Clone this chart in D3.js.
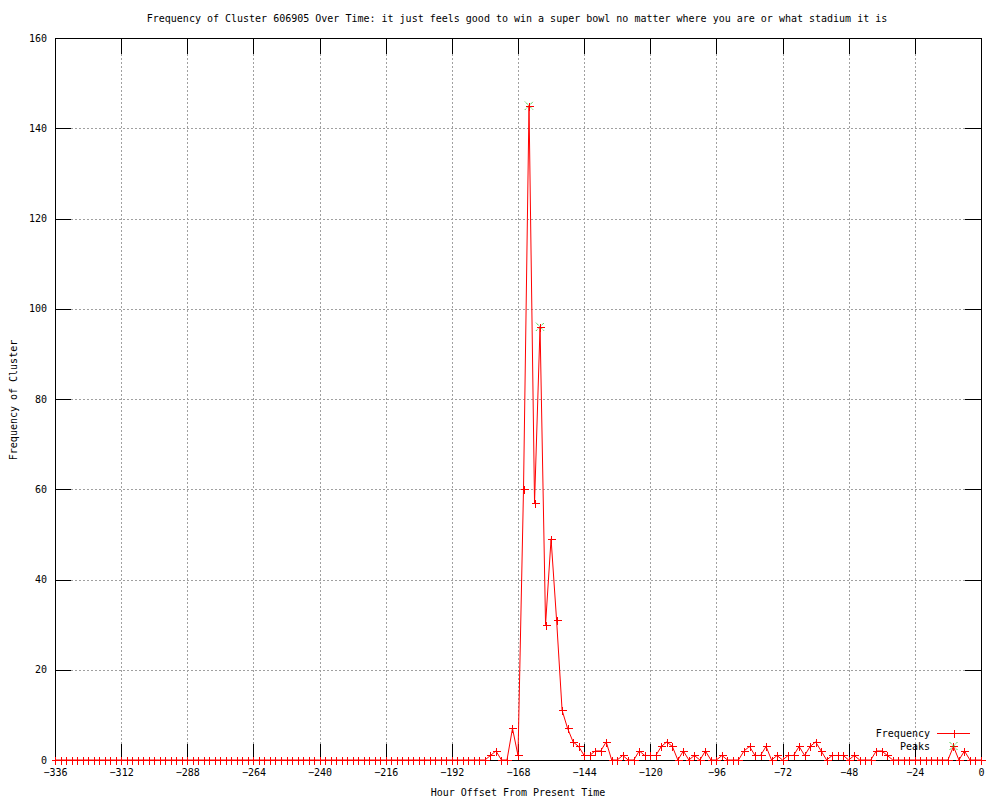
<!DOCTYPE html>
<html>
<head>
<meta charset="utf-8">
<script src="https://cdn.jsdelivr.net/npm/d3@7"></script>
<style>
  body { margin: 0; background: #fff; }
  text { font-family: "DejaVu Sans Mono", "Liberation Mono", monospace; font-size: 10px; fill: #000; }
</style>
</head>
<body>
<svg width="1000" height="800"></svg>
<script>
// frequency per 2-hour bin, hour offsets -336 .. 0
var hours = d3.range(-336, 1, 2);
var frequency = [
  0, 0, 0, 0, 0, 0, 0, 0, 0, 0, 0, 0, 0, 0, 0, 0, 0, 0, 0, 0,
  0, 0, 0, 0, 0, 0, 0, 0, 0, 0, 0, 0, 0, 0, 0, 0, 0, 0, 0, 0,
  0, 0, 0, 0, 0, 0, 0, 0, 0, 0, 0, 0, 0, 0, 0, 0, 0, 0, 0, 0,
  0, 0, 0, 0, 0, 0, 0, 0, 0, 0, 0, 0, 0, 0, 0, 0, 0, 0, 0,
  1, 2, 0, 0, 7, 1, 60, 145, 57, 96,
  30, 49, 31, 11, 7, 4, 3, 1, 1, 2,
  2, 4, 0, 0, 1, 0, 0, 2, 1, 1,
  1, 3, 4, 3, 0, 2, 0, 1, 0, 2,
  0, 0, 1, 0, 0, 0, 2, 3, 1, 1,
  3, 0, 1, 0, 1, 1, 3, 1, 3, 4,
  2, 0, 1, 1, 1, 0, 1, 0, 0, 0,
  2, 2, 1, 0, 0, 0, 0, 0, 0, 0,
  0, 0, 0, 0, 3, 0, 2, 0, 0, 0
];
var peakHours = [-164, -160];
var peakValues = [145, 96];

var xTicks = [-336, -312, -288, -264, -240, -216, -192, -168, -144, -120, -96, -72, -48, -24, 0];
var yTicks = [0, 20, 40, 60, 80, 100, 120, 140, 160];

var titleText = "Frequency of Cluster 606905 Over Time: it just feels good to win a super bowl no matter where you are or what stadium it is";

(function () {
var svg = d3.select("svg"),
    pL = 55, pR = 981, pT = 38, pB = 760,
    tic = 16;

var x = d3.scaleLinear().domain([-336, 0]).range([pL, pR]);
var y = d3.scaleLinear().domain([0, 160]).range([pB, pT]);

var data = hours.map(function (h, i) { return {h: h, v: frequency[i]}; });
var peaks = peakHours.map(function (h, i) { return {h: h, v: peakValues[i]}; });

// grid
var grid = svg.append("g").attr("shape-rendering", "crispEdges")
    .attr("stroke", "#a0a0a0").attr("stroke-dasharray", "2,2");
grid.selectAll(".gx").data(xTicks.slice(1, -1)).enter().append("line")
    .attr("x1", function (d) { return Math.round(x(d)) + 0.5; })
    .attr("x2", function (d) { return Math.round(x(d)) + 0.5; })
    .attr("y1", pT + tic).attr("y2", pB - tic);
grid.selectAll(".gy").data(yTicks.slice(1, -1)).enter().append("line")
    .attr("y1", function (d) { return Math.round(y(d)) + 0.5; })
    .attr("y2", function (d) { return Math.round(y(d)) + 0.5; })
    .attr("x1", pL + tic).attr("x2", pR - tic);

// axes with mirrored tics (gnuplot style)
var bottomAxis = d3.axisBottom(x).tickValues(xTicks).tickSizeInner(-tic).tickSizeOuter(0)
    .tickPadding(9).tickFormat(d3.format("d"));
var leftAxis = d3.axisLeft(y).tickValues(yTicks).tickSizeInner(-tic).tickSizeOuter(0)
    .tickPadding(8);

var gx = svg.append("g").attr("transform", "translate(0," + pB + ")").call(bottomAxis);
var gy = svg.append("g").attr("transform", "translate(" + pL + ",0)").call(leftAxis);
svg.append("g").attr("transform", "translate(0," + pT + ")")
    .call(d3.axisTop(x).tickValues(xTicks).tickSizeInner(-tic).tickSizeOuter(0).tickFormat(""));
svg.append("g").attr("transform", "translate(" + pR + ",0)")
    .call(d3.axisRight(y).tickValues(yTicks).tickSizeInner(-tic).tickSizeOuter(0).tickFormat(""));

svg.selectAll(".domain").remove();
svg.selectAll(".tick line").attr("stroke", "#000").attr("shape-rendering", "crispEdges");
svg.selectAll(".tick text").style("font-family", "'DejaVu Sans Mono', monospace").style("font-size", "10px");
gx.selectAll(".tick text").text(function (d) { return d < 0 ? "\u2212" + (-d) : d; });

// border
svg.append("rect")
    .attr("x", pL + 0.5).attr("y", pT + 0.5)
    .attr("width", pR - pL).attr("height", pB - pT)
    .attr("fill", "none").attr("stroke", "#000").attr("shape-rendering", "crispEdges");

// peaks (green *)
var star = 4;
var pk = svg.append("g").attr("stroke", "#00c000").attr("stroke-width", 1).attr("stroke-dasharray", "1,1");
peaks.forEach(function (d) {
  var cx = x(d.h), cy = y(d.v);
  pk.append("path").attr("d",
    "M" + (cx - star) + "," + (cy - star) + "L" + (cx + star) + "," + (cy + star) +
    "M" + (cx - star) + "," + (cy + star) + "L" + (cx + star) + "," + (cy - star));
});

// frequency line
var line = d3.line().x(function (d) { return x(d.h); }).y(function (d) { return y(d.v); });
svg.append("path").datum(data)
    .attr("d", line).attr("fill", "none").attr("stroke", "#ff0000").attr("stroke-width", 1);

var plus = 4;
svg.append("g").selectAll("path").data(data).enter().append("path")
    .attr("d", function (d) {
      var cx = Math.round(x(d.h)) + 0.5, cy = Math.round(y(d.v)) + 0.5;
      return "M" + (cx - plus) + "," + cy + "H" + (cx + plus) + "M" + cx + "," + (cy - plus) + "V" + (cy + plus);
    })
    .attr("stroke", "#ff0000").attr("shape-rendering", "crispEdges");

// key
var keyX = 930, sx1 = 937, sx2 = 970, sxm = (sx1 + sx2) / 2;
svg.append("text").attr("x", keyX).attr("y", 733).attr("dy", "0.35em").attr("text-anchor", "end").text("Frequency");
svg.append("line").attr("x1", sx1).attr("x2", sx2).attr("y1", 733.5).attr("y2", 733.5)
    .attr("stroke", "#ff0000").attr("shape-rendering", "crispEdges");
svg.append("path").attr("d", "M" + (Math.round(sxm) + 0.5) + "," + (733.5 - plus) + "V" + (733.5 + plus))
    .attr("stroke", "#ff0000").attr("shape-rendering", "crispEdges");
svg.append("text").attr("x", keyX).attr("y", 746).attr("dy", "0.35em").attr("text-anchor", "end").text("Peaks");
svg.append("path").attr("d",
    "M" + (sxm - star) + "," + (746 - star) + "L" + (sxm + star) + "," + (746 + star) +
    "M" + (sxm - star) + "," + (746 + star) + "L" + (sxm + star) + "," + (746 - star))
    .attr("stroke", "#00c000").attr("stroke-dasharray", "1,1");

// titles
svg.append("text").attr("x", 517).attr("y", 18).attr("dy", "0.35em").attr("text-anchor", "middle").text(titleText);
svg.append("text").attr("x", 518).attr("y", 792).attr("dy", "0.35em").attr("text-anchor", "middle")
    .text("Hour Offset From Present Time");
svg.append("text").attr("transform", "translate(13,400) rotate(-90)").attr("dy", "0.35em")
    .attr("text-anchor", "middle").text("Frequency of Cluster");
})();
</script>
</body>
</html>
